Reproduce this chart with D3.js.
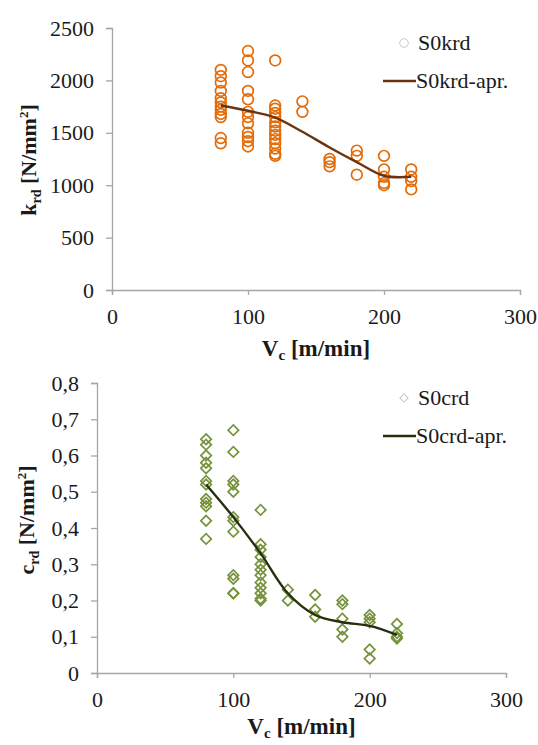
<!DOCTYPE html>
<html lang="en">
<head>
    <meta charset="UTF-8">
    <title>krd / crd vs Vc</title>
    <script src="https://d3js.org/d3.v7.min.js"></script>
    <style>
        body { margin: 0; background: #fff; }
        svg text { font-family: "Liberation Serif", "DejaVu Serif", serif !important; fill: #1a1a1a; }
    </style>
</head>
<body>
    <div id="chart"></div>

    <script>
        // Cutting speeds (x) shared by both charts
        const speeds = [80, 100, 120, 140, 160, 180, 200, 220];

        // S0krd measured points, one list per speed
        const krdValues = [
            [2100, 2040, 1980, 1900, 1830, 1790, 1750, 1720, 1680, 1650, 1450, 1400],
            [2280, 2190, 2080, 1900, 1820, 1700, 1650, 1590, 1500, 1460, 1420, 1370],
            [2190, 1760, 1730, 1690, 1650, 1600, 1560, 1520, 1480, 1440, 1400, 1350, 1300, 1280],
            [1800, 1700],
            [1250, 1220, 1180],
            [1330, 1280, 1100],
            [1280, 1150, 1080, 1020, 1000],
            [1150, 1080, 1040, 960]
        ];
        // S0krd-apr. fitted curve
        const krdFit = [1760, 1710, 1645, 1510, 1360, 1220, 1090, 1080];

        // S0crd measured points, one list per speed
        const crdValues = [
            [0.645, 0.63, 0.60, 0.58, 0.565, 0.53, 0.52, 0.48, 0.47, 0.46, 0.42, 0.37],
            [0.67, 0.61, 0.53, 0.52, 0.50, 0.43, 0.42, 0.39, 0.27, 0.26, 0.22, 0.22],
            [0.45, 0.355, 0.34, 0.32, 0.30, 0.285, 0.27, 0.25, 0.235, 0.22, 0.205, 0.20],
            [0.23, 0.20],
            [0.215, 0.175, 0.155],
            [0.20, 0.19, 0.15, 0.12, 0.10],
            [0.16, 0.15, 0.14, 0.065, 0.04],
            [0.135, 0.11, 0.10, 0.095]
        ];
        // S0crd-apr. fitted curve
        const crdFit = [0.52, 0.43, 0.33, 0.22, 0.16, 0.14, 0.13, 0.105];

        const xTicks = [0, 100, 200, 300];
        const krdTicks = [0, 500, 1000, 1500, 2000, 2500];
        const crdTicks = [0, 0.1, 0.2, 0.3, 0.4, 0.5, 0.6, 0.7, 0.8];

        const width = 538, height = 745;
        const svg = d3.select("#chart").append("svg")
            .attr("width", width)
            .attr("height", height);

        const axisColor = "#a6a6a6";
        const fontSize = 22;

        function drawChart(cfg) {
            const x = d3.scaleLinear().domain([0, 300]).range(cfg.xRange);
            const y = d3.scaleLinear().domain(cfg.yDomain).range(cfg.yRange);
            const g = svg.append("g");

            // axes
            const xAxis = g.append("g")
                .attr("transform", `translate(0,${cfg.yRange[0]})`)
                .call(d3.axisBottom(x).tickValues(xTicks).tickSize(5).tickFormat(d3.format("d")));
            const yAxis = g.append("g")
                .attr("transform", `translate(${cfg.xRange[0]},0)`)
                .call(d3.axisLeft(y).tickValues(cfg.yTicks).tickSize(6).tickFormat(cfg.fmt));
            [xAxis, yAxis].forEach(a => {
                a.attr("font-family", null);
                a.select(".domain").attr("stroke", axisColor).attr("stroke-width", 1.3);
                a.selectAll(".tick line").attr("stroke", axisColor).attr("stroke-width", 1.3);
                a.selectAll(".tick text")
                    .attr("font-size", fontSize)
                    .attr("fill", "#1a1a1a");
            });
            xAxis.selectAll(".tick text").attr("dy", "1.2em");
            yAxis.selectAll(".tick text").attr("x", -18);

            // measured points
            const pts = [];
            speeds.forEach((s, i) => cfg.values[i].forEach(v => pts.push({ x: s, y: v })));
            g.append("g").selectAll("path")
                .data(pts)
                .join("path")
                .attr("d", cfg.symbol)
                .attr("transform", d => `translate(${x(d.x)},${y(d.y)})${cfg.rot}`)
                .attr("fill", "none")
                .attr("stroke", cfg.color)
                .attr("stroke-width", 1.7);

            // fitted curve
            const line = d3.line()
                .x((d, i) => x(speeds[i]))
                .y(d => y(d))
                .curve(d3.curveCatmullRom.alpha(0.5));
            g.append("path")
                .datum(cfg.fit)
                .attr("d", line)
                .attr("fill", "none")
                .attr("stroke", cfg.lineColor)
                .attr("stroke-width", 2.4);

            // legend
            const lg = g.append("g").attr("transform", `translate(0,${cfg.legendY})`);
            lg.append("path")
                .attr("d", cfg.symbol)
                .attr("transform", `translate(404,0)${cfg.rot} scale(0.8)`)
                .attr("fill", "none")
                .attr("stroke", "#c4c4c4")
                .attr("stroke-width", 1.2);
            lg.append("text").attr("x", 418).attr("y", 7).attr("font-size", 22).text(cfg.name);
            lg.append("line")
                .attr("x1", 383).attr("x2", 416).attr("y1", 38).attr("y2", 38)
                .attr("stroke", cfg.lineColor).attr("stroke-width", 2.4);
            lg.append("text").attr("x", 416).attr("y", 45).attr("font-size", 22).text(cfg.name + "-apr.");

            // x title
            const xt = g.append("text")
                .attr("x", (cfg.xRange[0] + cfg.xRange[1]) / 2)
                .attr("y", cfg.xTitleY)
                .attr("text-anchor", "middle")
                .attr("font-size", 23)
                .attr("font-weight", "bold");
            xt.append("tspan").text("V");
            xt.append("tspan").attr("font-size", 15).attr("dy", 4).text("c");
            xt.append("tspan").attr("dy", -4).text(" [m/min]");

            // y title
            const yt = g.append("text")
                .attr("transform", `translate(${cfg.yTitleX},${cfg.yTitleY}) rotate(-90)`)
                .attr("text-anchor", "middle")
                .attr("font-size", fontSize)
                .attr("font-weight", "bold");
            yt.append("tspan").text(cfg.yLetter);
            yt.append("tspan").attr("font-size", 14).attr("dy", 5).text("rd");
            yt.append("tspan").attr("dy", -5).text(" [N/mm");
            yt.append("tspan").attr("font-size", 13).attr("dy", -8).text("2");
            yt.append("tspan").attr("dy", 8).text("]");
        }

        drawChart({
            xRange: [112, 520], yDomain: [0, 2500], yRange: [290, 28],
            yTicks: krdTicks, fmt: d3.format("d"),
            values: krdValues, fit: krdFit,
            symbol: d3.symbol(d3.symbolCircle, 90)(), rot: "",
            color: "#E36C09", lineColor: "#6B3410",
            name: "S0krd", legendY: 43,
            xTitleY: 356, yLetter: "k", yTitleX: 36, yTitleY: 160
        });

        drawChart({
            xRange: [97, 506], yDomain: [0, 0.8], yRange: [673, 383],
            yTicks: crdTicks, fmt: d => d === 0 ? "0" : d3.format(".1f")(d).replace(".", ","),
            values: crdValues, fit: crdFit,
            symbol: d3.symbol(d3.symbolSquare, 55)(), rot: " rotate(45)",
            color: "#76923C", lineColor: "#24300F",
            name: "S0crd", legendY: 398,
            xTitleY: 734, yLetter: "c", yTitleX: 34, yTitleY: 520
        });
    </script>
</body>
</html>
